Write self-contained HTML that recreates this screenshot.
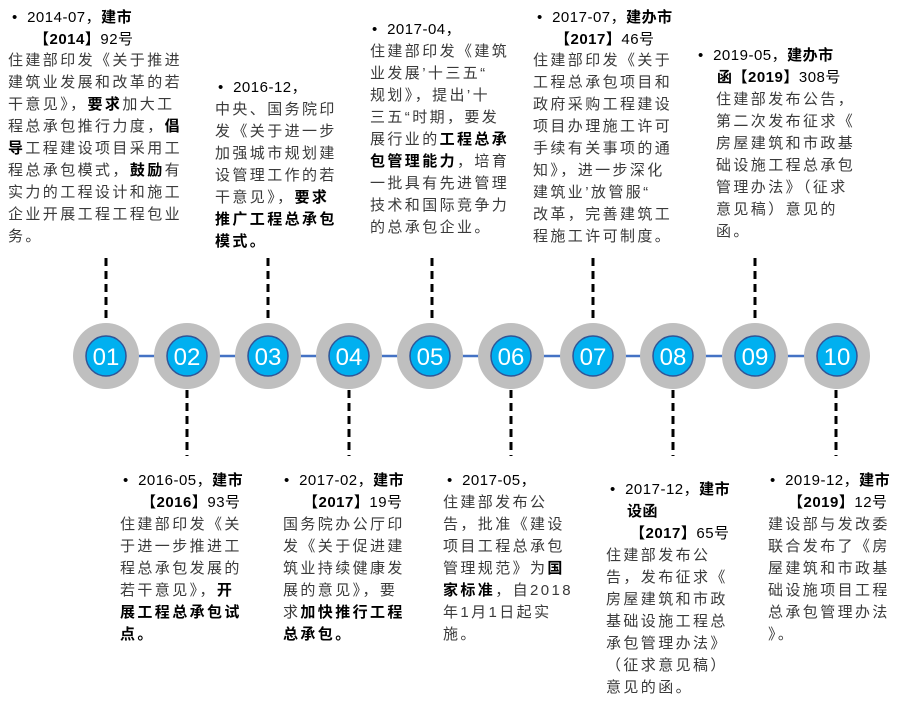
<!DOCTYPE html>
<html><head><meta charset="utf-8"><style>
body{margin:0;width:912px;height:709px;background:#fff;position:relative;overflow:hidden;font-family:"Liberation Sans","Noto Sans CJK SC",sans-serif;}
.l{position:absolute;white-space:pre;font-size:15px;line-height:22px;height:22px;color:#3a3a3a;letter-spacing:2.4px;}
.h{color:#000;letter-spacing:0.5px;}
.b1{margin-left:4px;}
b{color:#000;font-weight:bold;}
svg{position:absolute;left:0;top:0;}
</style></head><body>
<svg width="912" height="709">
<line x1="106" y1="356" x2="837" y2="356" stroke="#4472C4" stroke-width="2.5"/>
<g stroke="#000" stroke-width="3" stroke-dasharray="8,5">
<line x1="106" y1="258" x2="106" y2="323"/>
<line x1="268" y1="258" x2="268" y2="323"/>
<line x1="432" y1="258" x2="432" y2="323"/>
<line x1="593" y1="258" x2="593" y2="323"/>
<line x1="755" y1="258" x2="755" y2="323"/>
<line x1="187" y1="390" x2="187" y2="456"/>
<line x1="349" y1="390" x2="349" y2="456"/>
<line x1="511" y1="390" x2="511" y2="456"/>
<line x1="673" y1="390" x2="673" y2="456"/>
<line x1="836" y1="390" x2="836" y2="456"/>
</g>
<g font-family="Liberation Sans" font-size="24" fill="#fff" text-anchor="middle">
<g transform="translate(106,356)"><circle r="33" fill="#BFBFBF"/><circle r="20" fill="#00B0F0" stroke="#2F5597" stroke-width="1.5"/><text y="9">01</text></g>
<g transform="translate(187,356)"><circle r="33" fill="#BFBFBF"/><circle r="20" fill="#00B0F0" stroke="#2F5597" stroke-width="1.5"/><text y="9">02</text></g>
<g transform="translate(268,356)"><circle r="33" fill="#BFBFBF"/><circle r="20" fill="#00B0F0" stroke="#2F5597" stroke-width="1.5"/><text y="9">03</text></g>
<g transform="translate(349,356)"><circle r="33" fill="#BFBFBF"/><circle r="20" fill="#00B0F0" stroke="#2F5597" stroke-width="1.5"/><text y="9">04</text></g>
<g transform="translate(430,356)"><circle r="33" fill="#BFBFBF"/><circle r="20" fill="#00B0F0" stroke="#2F5597" stroke-width="1.5"/><text y="9">05</text></g>
<g transform="translate(511,356)"><circle r="33" fill="#BFBFBF"/><circle r="20" fill="#00B0F0" stroke="#2F5597" stroke-width="1.5"/><text y="9">06</text></g>
<g transform="translate(593,356)"><circle r="33" fill="#BFBFBF"/><circle r="20" fill="#00B0F0" stroke="#2F5597" stroke-width="1.5"/><text y="9">07</text></g>
<g transform="translate(673,356)"><circle r="33" fill="#BFBFBF"/><circle r="20" fill="#00B0F0" stroke="#2F5597" stroke-width="1.5"/><text y="9">08</text></g>
<g transform="translate(755,356)"><circle r="33" fill="#BFBFBF"/><circle r="20" fill="#00B0F0" stroke="#2F5597" stroke-width="1.5"/><text y="9">09</text></g>
<g transform="translate(837,356)"><circle r="33" fill="#BFBFBF"/><circle r="20" fill="#00B0F0" stroke="#2F5597" stroke-width="1.5"/><text y="9">10</text></g>
</g>
</svg>

<!-- B1 -->
<div class="l h b1" style="left:8px;top:7px">•  2014-07，<b>建市</b></div>
<div class="l h" style="left:34px;top:29px"><b>【2014】</b>92号</div>
<div class="l" style="left:8px;top:50px">住建部印发《关于推进</div>
<div class="l" style="left:8px;top:72px">建筑业发展和改革的若</div>
<div class="l" style="left:8px;top:94px">干意见》，<b>要求</b>加大工</div>
<div class="l" style="left:8px;top:116px">程总承包推行力度，<b>倡</b></div>
<div class="l" style="left:8px;top:138px"><b>导</b>工程建设项目采用工</div>
<div class="l" style="left:8px;top:160px">程总承包模式，<b>鼓励</b>有</div>
<div class="l" style="left:8px;top:182px">实力的工程设计和施工</div>
<div class="l" style="left:8px;top:204px">企业开展工程工程包业</div>
<div class="l" style="left:8px;top:226px">务。</div>

<!-- B3 -->
<div class="l h b1" style="left:214px;top:77px">•  2016-12，</div>
<div class="l" style="left:215px;top:99px">中央、国务院印</div>
<div class="l" style="left:215px;top:121px">发《关于进一步</div>
<div class="l" style="left:215px;top:143px">加强城市规划建</div>
<div class="l" style="left:215px;top:165px">设管理工作的若</div>
<div class="l" style="left:215px;top:187px">干意见》，<b>要求</b></div>
<div class="l" style="left:215px;top:209px"><b>推广工程总承包</b></div>
<div class="l" style="left:215px;top:231px"><b>模式。</b></div>

<!-- B5 -->
<div class="l h b1" style="left:368px;top:19px">•  2017-04，</div>
<div class="l" style="left:370px;top:41px">住建部印发《建筑</div>
<div class="l" style="left:370px;top:63px">业发展’十三五“</div>
<div class="l" style="left:370px;top:85px">规划》，提出’十</div>
<div class="l" style="left:370px;top:107px">三五“时期，要发</div>
<div class="l" style="left:370px;top:129px">展行业的<b>工程总承</b></div>
<div class="l" style="left:370px;top:151px"><b>包管理能力</b>，培育</div>
<div class="l" style="left:370px;top:173px">一批具有先进管理</div>
<div class="l" style="left:370px;top:195px">技术和国际竞争力</div>
<div class="l" style="left:370px;top:217px">的总承包企业。</div>

<!-- B7 -->
<div class="l h b1" style="left:533px;top:7px">•  2017-07，<b>建办市</b></div>
<div class="l h" style="left:555px;top:29px"><b>【2017】</b>46号</div>
<div class="l" style="left:533px;top:50px">住建部印发《关于</div>
<div class="l" style="left:533px;top:72px">工程总承包项目和</div>
<div class="l" style="left:533px;top:94px">政府采购工程建设</div>
<div class="l" style="left:533px;top:116px">项目办理施工许可</div>
<div class="l" style="left:533px;top:138px">手续有关事项的通</div>
<div class="l" style="left:533px;top:160px">知》，进一步深化</div>
<div class="l" style="left:533px;top:182px">建筑业’放管服“</div>
<div class="l" style="left:533px;top:204px">改革，完善建筑工</div>
<div class="l" style="left:533px;top:226px">程施工许可制度。</div>

<!-- B9 -->
<div class="l h b1" style="left:694px;top:45px">•  2019-05，<b>建办市</b></div>
<div class="l h" style="left:717px;top:67px"><b>函【2019】</b>308号</div>
<div class="l" style="left:716px;top:89px">住建部发布公告，</div>
<div class="l" style="left:716px;top:111px">第二次发布征求《</div>
<div class="l" style="left:716px;top:133px">房屋建筑和市政基</div>
<div class="l" style="left:716px;top:155px">础设施工程总承包</div>
<div class="l" style="left:716px;top:177px">管理办法》（征求</div>
<div class="l" style="left:716px;top:199px">意见稿）意见的</div>
<div class="l" style="left:716px;top:221px">函。</div>

<!-- B2 -->
<div class="l h b1" style="left:119px;top:470px">•  2016-05，<b>建市</b></div>
<div class="l h" style="left:141px;top:492px"><b>【2016】</b>93号</div>
<div class="l" style="left:120px;top:514px">住建部印发《关</div>
<div class="l" style="left:120px;top:536px">于进一步推进工</div>
<div class="l" style="left:120px;top:558px">程总承包发展的</div>
<div class="l" style="left:120px;top:580px">若干意见》，<b>开</b></div>
<div class="l" style="left:120px;top:602px"><b>展工程总承包试</b></div>
<div class="l" style="left:120px;top:624px"><b>点。</b></div>

<!-- B4 -->
<div class="l h b1" style="left:280px;top:470px">•  2017-02，<b>建市</b></div>
<div class="l h" style="left:303px;top:492px"><b>【2017】</b>19号</div>
<div class="l" style="left:283px;top:514px">国务院办公厅印</div>
<div class="l" style="left:283px;top:536px">发《关于促进建</div>
<div class="l" style="left:283px;top:558px">筑业持续健康发</div>
<div class="l" style="left:283px;top:580px">展的意见》，要</div>
<div class="l" style="left:283px;top:602px">求<b>加快推行工程</b></div>
<div class="l" style="left:283px;top:624px"><b>总承包。</b></div>

<!-- B6 -->
<div class="l h b1" style="left:443px;top:470px">•  2017-05，</div>
<div class="l" style="left:443px;top:492px">住建部发布公</div>
<div class="l" style="left:443px;top:514px">告，批准《建设</div>
<div class="l" style="left:443px;top:536px">项目工程总承包</div>
<div class="l" style="left:443px;top:558px">管理规范》为<b>国</b></div>
<div class="l" style="left:443px;top:580px"><b>家标准</b>，自2018</div>
<div class="l" style="left:443px;top:602px">年1月1日起实</div>
<div class="l" style="left:443px;top:624px">施。</div>

<!-- B8 -->
<div class="l h b1" style="left:606px;top:479px">•  2017-12，<b>建市</b></div>
<div class="l h" style="left:627px;top:501px"><b>设函</b></div>
<div class="l h" style="left:630px;top:523px"><b>【2017】</b>65号</div>
<div class="l" style="left:606px;top:545px">住建部发布公</div>
<div class="l" style="left:606px;top:567px">告，发布征求《</div>
<div class="l" style="left:606px;top:589px">房屋建筑和市政</div>
<div class="l" style="left:606px;top:611px">基础设施工程总</div>
<div class="l" style="left:606px;top:633px">承包管理办法》</div>
<div class="l" style="left:606px;top:655px">（征求意见稿）</div>
<div class="l" style="left:606px;top:677px">意见的函。</div>

<!-- B10 -->
<div class="l h b1" style="left:766px;top:470px">•  2019-12，<b>建市</b></div>
<div class="l h" style="left:788px;top:492px"><b>【2019】</b>12号</div>
<div class="l" style="left:768px;top:514px">建设部与发改委</div>
<div class="l" style="left:768px;top:536px">联合发布了《房</div>
<div class="l" style="left:768px;top:558px">屋建筑和市政基</div>
<div class="l" style="left:768px;top:580px">础设施项目工程</div>
<div class="l" style="left:768px;top:602px">总承包管理办法</div>
<div class="l" style="left:768px;top:624px">》。</div>
</body></html>
